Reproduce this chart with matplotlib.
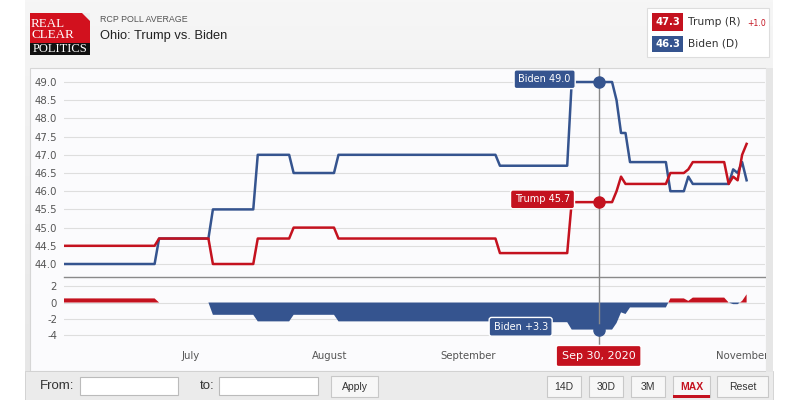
import matplotlib
matplotlib.use("Agg")
import matplotlib.pyplot as plt
import matplotlib.dates as mdates
import matplotlib.transforms as mtransforms
from matplotlib.patches import Rectangle, Polygon
import numpy as np
import pandas as pd

plt.rcParams["axes.unicode_minus"] = False

# poll average, values (breakpoints, one day apart at each step)
dates = ["2020-06-02", "2020-06-23", "2020-06-24", "2020-07-05", "2020-07-06",
         "2020-07-15", "2020-07-16", "2020-07-23", "2020-07-24", "2020-08-02",
         "2020-08-03", "2020-09-07", "2020-09-08", "2020-09-23", "2020-09-24",
         "2020-10-03", "2020-10-04", "2020-10-05", "2020-10-06", "2020-10-07",
         "2020-10-15", "2020-10-16", "2020-10-19", "2020-10-20", "2020-10-21",
         "2020-10-28", "2020-10-29", "2020-10-30", "2020-10-31", "2020-11-01",
         "2020-11-02"]
trump = [44.5, 44.5, 44.7, 44.7, 44.0, 44.0, 44.7, 44.7, 45.0, 45.0,
         44.7, 44.7, 44.3, 44.3, 45.7, 45.7, 46.0, 46.4, 46.2, 46.2,
         46.2, 46.5, 46.5, 46.6, 46.8, 46.8, 46.2, 46.4, 46.3, 47.0,
         47.3]
biden = [44.0, 44.0, 44.7, 44.7, 45.5, 45.5, 47.0, 47.0, 46.5, 46.5,
         47.0, 47.0, 46.7, 46.7, 49.0, 49.0, 48.5, 47.6, 47.6, 46.8,
         46.8, 46.0, 46.0, 46.4, 46.2, 46.2, 46.2, 46.6, 46.5, 46.8,
         46.3]

main_ticks = [44.0, 44.5, 45.0, 45.5, 46.0, 46.5, 47.0, 47.5, 48.0, 48.5, 49.0]
spread_ticks = [2, 0, -2, -4]
# October sits under the date flag in the original, so it is not shown
month_ticks = ["2020-07-01", "2020-08-01", "2020-09-01", "2020-11-01"]
month_labels = ["July", "August", "September", "November"]
cursor_date = "2020-09-30"
cursor_label = "Sep 30, 2020"
buttons = ["14D", "30D", "3M", "MAX", "Reset"]

RED = "#c4121f"
BLUE = "#35548f"
GRID = "#dedede"
TICK = "#555555"

W, H = 800, 400
fig = plt.figure(figsize=(8, 4), dpi=100)
fig.patch.set_facecolor("white")


def px_box(x0, y0, x1, y1):
    return [x0 / W, 1 - y1 / H, (x1 - x0) / W, (y1 - y0) / H]


def rect(x0, y0, x1, y1, **kw):
    kw.setdefault("zorder", -5)
    r = Rectangle((x0 / W, 1 - y1 / H), (x1 - x0) / W, (y1 - y0) / H,
                  transform=fig.transFigure, **kw)
    fig.patches.append(r)


def ftext(x, y, s, **kw):
    fig.text(x / W, 1 - y / H, s, **kw)


# widget frame with soft gradient header
bg = fig.add_axes(px_box(25, 0, 773, 400), zorder=-10)
grad = np.linspace(0, 1, 200)[:, None]
bg.imshow(grad, aspect="auto", cmap=plt.matplotlib.colors.LinearSegmentedColormap.from_list(
    "g", ["#f6f6f6", "#e6e6e6"]), extent=(0, 1, 0, 1))
bg.set_axis_off()
rect(30, 68, 766, 371, facecolor="#fbfbfd", edgecolor="#d6d6d6", lw=0.8)
rect(25, 371, 773, 400, facecolor="#ebebeb", edgecolor="#d0d0d0", lw=0.6)

# logo
rect(30, 13, 90, 43, facecolor="#d2111e", lw=0, zorder=2)
rect(30, 43, 90, 55, facecolor="#111111", lw=0, zorder=2)
fig.patches.append(Polygon([(82 / W, 1 - 13 / H), (90 / W, 1 - 13 / H), (90 / W, 1 - 21 / H)],
                           closed=True, transform=fig.transFigure,
                           facecolor="#eeeeee", lw=0, zorder=3))
ftext(31, 24, "REAL", color="white", fontsize=9.4, family="Liberation Serif", va="center")
ftext(31, 35, "CLEAR", color="white", fontsize=9.4, family="Liberation Serif", va="center")
ftext(60, 49, "POLITICS", color="white", fontsize=9, family="Liberation Serif",
      va="center", ha="center")

ftext(100, 19, "RCP POLL AVERAGE", color="#555555", fontsize=6.4,
      family="Liberation Sans", va="center")
ftext(100, 36, "Ohio: Trump vs. Biden", color="#222222", fontsize=9.3,
      family="Liberation Sans", va="center")

# legend box
rect(647, 8, 769, 57, facecolor="white", edgecolor="#dddddd", lw=0.8, zorder=2)
rect(652, 13, 683, 31, facecolor=RED, lw=0, zorder=3)
rect(652, 36, 683, 52, facecolor=BLUE, lw=0, zorder=3)
ftext(667.5, 22, f"{trump[-1]:.1f}", color="white", fontsize=7.2, weight="bold",
      ha="center", va="center")
ftext(667.5, 44, f"{biden[-1]:.1f}", color="white", fontsize=7.2, weight="bold",
      ha="center", va="center")
ftext(688, 22, "Trump (R)", color="#333333", fontsize=7.7, va="center")
ftext(688, 44, "Biden (D)", color="#333333", fontsize=7.7, va="center")
ftext(747, 23, f"+{trump[-1] - biden[-1]:.1f}", color=RED, fontsize=5.6, va="center")

# data
x = mdates.date2num(pd.to_datetime(dates))
trump = np.array(trump)
biden = np.array(biden)
spread = trump - biden
xc = mdates.date2num(pd.Timestamp(cursor_date))
jul1 = mdates.date2num(pd.Timestamp("2020-07-01"))
xlim = (jul1 - 28.2, jul1 + 128.1)

# main panel
ax = fig.add_axes(px_box(64, 68, 765, 277))
ax.set_facecolor("none")
ax.plot(x, biden, color=BLUE, lw=1.8, solid_joinstyle="round", zorder=3)
ax.plot(x, trump, color=RED, lw=1.8, solid_joinstyle="round", zorder=3)
ax.set_xlim(xlim)
ax.set_ylim(43.643, 49.385)
ax.set_yticks(main_ticks)
ax.set_yticklabels([f"{t:.1f}" for t in main_ticks])
ax.tick_params(axis="y", length=0, pad=5, labelsize=7.3, labelcolor=TICK)
ax.tick_params(axis="x", length=0, labelbottom=False)
ax.grid(axis="y", color=GRID, lw=0.8)
ax.set_axisbelow(True)
for s in ax.spines.values():
    s.set_visible(False)
ax.axvline(xc, color="#8a8a8a", lw=1, zorder=4)
b_c = np.interp(xc, x, biden)
t_c = np.interp(xc, x, trump)
ax.plot([xc], [b_c], "o", color=BLUE, ms=8, zorder=5)
ax.plot([xc], [t_c], "o", color=RED, ms=8, zorder=5)
tip = dict(boxstyle="round,pad=0.45,rounding_size=0.25", ec="white", lw=1)
ax.annotate(f"Biden {b_c:.1f}", xy=(xc, b_c), xytext=(-20, 2), textcoords="offset points",
            ha="right", va="center", color="white", fontsize=7,
            bbox=dict(fc=BLUE, **tip), zorder=6)
ax.annotate(f"Trump {t_c:.1f}", xy=(xc, t_c), xytext=(-20.5, 2), textcoords="offset points",
            ha="right", va="center", color="white", fontsize=7,
            bbox=dict(fc=RED, **tip), zorder=6)

# spread panel
ax2 = fig.add_axes(px_box(64, 277, 765, 345))
ax2.set_facecolor("none")
ax2.fill_between(x, spread, 0, where=spread >= 0, interpolate=True, color=RED, lw=0, zorder=3)
ax2.fill_between(x, spread, 0, where=spread <= 0, interpolate=True, color=BLUE, lw=0, zorder=3)
ax2.set_xlim(xlim)
ax2.set_ylim(-5.18, 3.11)
ax2.set_yticks(spread_ticks)
ax2.tick_params(axis="y", length=0, pad=5, labelsize=7.3, labelcolor=TICK)
ax2.set_xticks(mdates.date2num(pd.to_datetime(month_ticks)))
ax2.set_xticklabels(month_labels)
ax2.tick_params(axis="x", length=0, pad=4, labelsize=7.3, labelcolor=TICK)
ax2.grid(axis="y", color=GRID, lw=0.8)
ax2.set_axisbelow(True)
for s in ax2.spines.values():
    s.set_visible(False)
ax2.spines["top"].set_visible(True)
ax2.spines["top"].set_color("#8a8a8a")
ax2.spines["top"].set_linewidth(1)
ax2.axvline(xc, color="#8a8a8a", lw=1, zorder=4)
s_c = np.interp(xc, x, spread)
ax2.plot([xc], [s_c], "o", color=BLUE, ms=8, zorder=5)
ax2.annotate(f"Biden +{abs(s_c):.1f}", xy=(xc, s_c), xytext=(-36.6, 2), textcoords="offset points",
             ha="right", va="center", color="white", fontsize=7,
             bbox=dict(fc=BLUE, **tip), zorder=6)
blend = mtransforms.blended_transform_factory(ax2.transData, fig.transFigure)
ax2.text(xc, 1 - 356 / H, cursor_label, transform=blend, ha="center", va="center",
         color="white", fontsize=8, clip_on=False, zorder=10,
         bbox=dict(boxstyle="round,pad=0.5,rounding_size=0.2", fc=RED, ec="white", lw=1))

# right border clips the last month label
rect(766, 68, 773, 372, facecolor="#e6e6e6", lw=0, zorder=5)

# bottom bar
ftext(40, 386, "From:", color="#333333", fontsize=9.5, family="Liberation Sans", va="center")
rect(80, 377, 178, 395, facecolor="white", edgecolor="#bbbbbb", lw=0.8, zorder=2)
ftext(200, 386, "to:", color="#333333", fontsize=9.5, family="Liberation Sans", va="center")
rect(219, 377, 318, 395, facecolor="white", edgecolor="#bbbbbb", lw=0.8, zorder=2)
rect(331, 376, 378, 397, facecolor="#f7f7f7", edgecolor="#c8c8c8", lw=0.8, zorder=2)
ftext(354.5, 386.5, "Apply", color="#333333", fontsize=7.5, family="Liberation Sans",
      ha="center", va="center")
btn_x = [(547, 581), (589, 623), (631, 665), (673, 710), (717, 768)]
for label, (bx0, bx1) in zip(buttons, btn_x):
    rect(bx0, 376, bx1, 397, facecolor="#f7f7f7", edgecolor="#c8c8c8", lw=0.8, zorder=2)
    active = label == "MAX"
    ftext((bx0 + bx1) / 2, 386.5, label, color=RED if active else "#333333",
          fontsize=7.5, family="Liberation Sans", weight="bold" if active else "normal",
          ha="center", va="center")
    if active:
        rect(bx0, 395, bx1, 397.5, facecolor=RED, lw=0, zorder=3)

fig.savefig("out.png", dpi=100, facecolor=fig.get_facecolor())
